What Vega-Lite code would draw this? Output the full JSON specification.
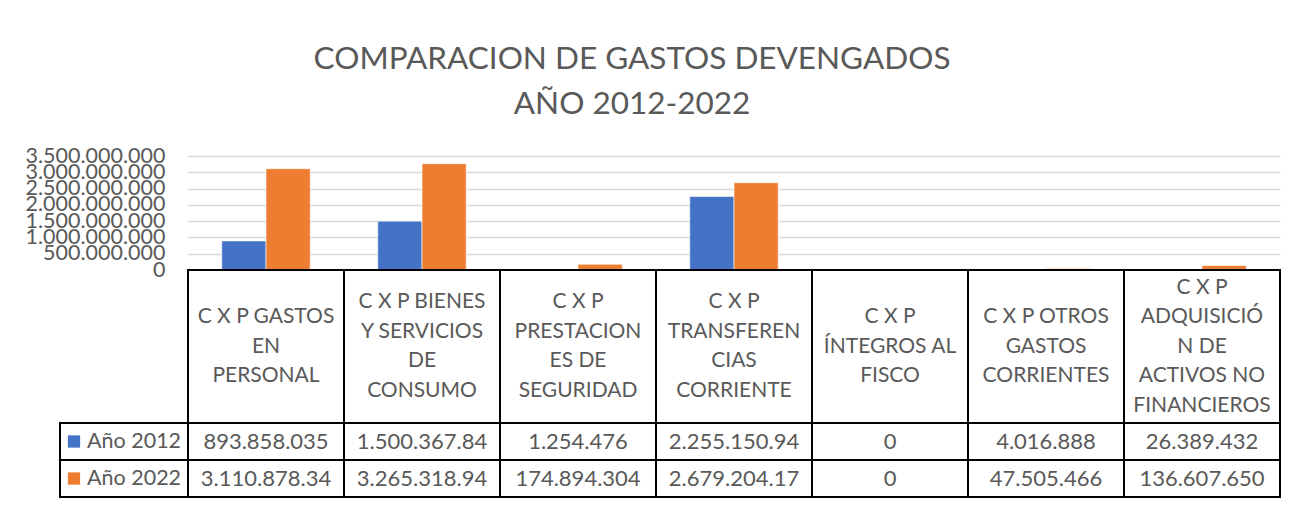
{
  "$schema": "https://vega.github.io/schema/vega-lite/v6.json",
  "background": "white",
  "padding": {"left": 25, "top": 43, "right": 0, "bottom": 0},
  "title": {
    "text": ["COMPARACION DE GASTOS DEVENGADOS", "AÑO 2012-2022"],
    "font": "Lato", "fontSize": 31.5, "fontWeight": "normal", "color": "#595959",
    "lineHeight": 45, "anchor": "middle", "offset": 25, "dx": -21
  },
  "datasets": {
    "gastos": [
      {"cat": "C X P GASTOS EN PERSONAL", "header": "C X P GASTOS\nEN\nPERSONAL", "year": "Año 2012", "value": 893858035, "label": "893.858.035"},
      {"cat": "C X P BIENES Y SERVICIOS DE CONSUMO", "header": "C X P BIENES\nY SERVICIOS\nDE\nCONSUMO", "year": "Año 2012", "value": 1500367840, "label": "1.500.367.84"},
      {"cat": "C X P PRESTACIONES DE SEGURIDAD", "header": "C X P\nPRESTACION\nES DE\nSEGURIDAD", "year": "Año 2012", "value": 1254476, "label": "1.254.476"},
      {"cat": "C X P TRANSFERENCIAS CORRIENTE", "header": "C X P\nTRANSFEREN\nCIAS\nCORRIENTE", "year": "Año 2012", "value": 2255150940, "label": "2.255.150.94"},
      {"cat": "C X P ÍNTEGROS AL FISCO", "header": "C X P\nÍNTEGROS AL\nFISCO", "year": "Año 2012", "value": 0, "label": "0"},
      {"cat": "C X P OTROS GASTOS CORRIENTES", "header": "C X P OTROS\nGASTOS\nCORRIENTES", "year": "Año 2012", "value": 4016888, "label": "4.016.888"},
      {"cat": "C X P ADQUISICIÓN DE ACTIVOS NO FINANCIEROS", "header": "C X P\nADQUISICIÓ\nN DE\nACTIVOS NO\nFINANCIEROS", "year": "Año 2012", "value": 26389432, "label": "26.389.432"},
      {"cat": "C X P GASTOS EN PERSONAL", "header": "C X P GASTOS\nEN\nPERSONAL", "year": "Año 2022", "value": 3110878340, "label": "3.110.878.34"},
      {"cat": "C X P BIENES Y SERVICIOS DE CONSUMO", "header": "C X P BIENES\nY SERVICIOS\nDE\nCONSUMO", "year": "Año 2022", "value": 3265318940, "label": "3.265.318.94"},
      {"cat": "C X P PRESTACIONES DE SEGURIDAD", "header": "C X P\nPRESTACION\nES DE\nSEGURIDAD", "year": "Año 2022", "value": 174894304, "label": "174.894.304"},
      {"cat": "C X P TRANSFERENCIAS CORRIENTE", "header": "C X P\nTRANSFEREN\nCIAS\nCORRIENTE", "year": "Año 2022", "value": 2679204170, "label": "2.679.204.17"},
      {"cat": "C X P ÍNTEGROS AL FISCO", "header": "C X P\nÍNTEGROS AL\nFISCO", "year": "Año 2022", "value": 0, "label": "0"},
      {"cat": "C X P OTROS GASTOS CORRIENTES", "header": "C X P OTROS\nGASTOS\nCORRIENTES", "year": "Año 2022", "value": 47505466, "label": "47.505.466"},
      {"cat": "C X P ADQUISICIÓN DE ACTIVOS NO FINANCIEROS", "header": "C X P\nADQUISICIÓ\nN DE\nACTIVOS NO\nFINANCIEROS", "year": "Año 2022", "value": 136607650, "label": "136.607.650"}
    ]
  },
  "columns": 2,
  "spacing": 0,
  "bounds": "flush",
  "concat": [
    {
      "width": 128, "height": 114,
      "data": {"name": "gastos"},
      "transform": [{"filter": "datum.cat == 'C X P GASTOS EN PERSONAL' && datum.year == 'Año 2012'"}],
      "mark": {"type": "text", "text": ""},
      "encoding": {}
    },
    {
      "width": 1092, "height": 114,
      "data": {"name": "gastos"},
      "mark": {"type": "bar", "stroke": "white", "strokeWidth": 0.6},
      "encoding": {
        "x": {"field": "cat", "type": "nominal", "sort": null, "scale": {"paddingInner": 0.433, "paddingOuter": 0.2165}, "axis": null},
        "xOffset": {"field": "year", "type": "nominal", "sort": null, "scale": {"paddingInner": 0, "paddingOuter": 0}},
        "y": {
          "field": "value", "type": "quantitative",
          "scale": {"domain": [0, 3500000000], "nice": false, "zero": true},
          "axis": {
            "values": [0, 500000000, 1000000000, 1500000000, 2000000000, 2500000000, 3000000000, 3500000000],
            "format": ",d", "title": null, "domain": false, "ticks": false,
            "labelFont": "Lato", "labelFontSize": 21.5, "labelColor": "#595959", "labelPadding": 23,
            "labelOverlap": false, "labelBaseline": "middle",
            "gridColor": "#D9D9D9", "gridWidth": 1.3
          }
        },
        "color": {"field": "year", "type": "nominal", "scale": {"domain": ["Año 2012", "Año 2022"], "range": ["#4472C4", "#ED7D31"]}, "legend": null}
      }
    },
    {
      "width": 128, "height": 153,
      "data": {"name": "gastos"},
      "transform": [{"filter": "datum.cat == 'C X P GASTOS EN PERSONAL' && datum.year == 'Año 2012'"}],
      "mark": {"type": "text", "text": ""},
      "encoding": {}
    },
    {
      "width": 1092, "height": 153,
      "data": {"name": "gastos"},
      "transform": [{"filter": "datum.year == 'Año 2012'"}],
      "encoding": {
        "x": {"field": "cat", "type": "nominal", "sort": null, "scale": {"paddingInner": 0, "paddingOuter": 0}, "axis": null}
      },
      "layer": [
        {"mark": {"type": "rect", "fill": "white", "stroke": "black", "strokeWidth": 2}},
        {
          "transform": [{"filter": "length(split(datum.header, '\\n')) == 3"}],
          "mark": {"type": "text", "font": "Lato", "fontSize": 21, "color": "#595959", "lineBreak": "\n", "lineHeight": 29.5, "baseline": "middle", "align": "center", "dy": -29.5},
          "encoding": {"text": {"field": "header"}}
        },
        {
          "transform": [{"filter": "length(split(datum.header, '\\n')) == 4"}],
          "mark": {"type": "text", "font": "Lato", "fontSize": 21, "color": "#595959", "lineBreak": "\n", "lineHeight": 29.5, "baseline": "middle", "align": "center", "dy": -44.25},
          "encoding": {"text": {"field": "header"}}
        },
        {
          "transform": [{"filter": "length(split(datum.header, '\\n')) == 5"}],
          "mark": {"type": "text", "font": "Lato", "fontSize": 21, "color": "#595959", "lineBreak": "\n", "lineHeight": 29.5, "baseline": "middle", "align": "center", "dy": -59},
          "encoding": {"text": {"field": "header"}}
        }
      ]
    },
    {
      "width": 128, "height": 74,
      "data": {"name": "gastos"},
      "transform": [{"filter": "datum.cat == 'C X P GASTOS EN PERSONAL'"}],
      "encoding": {
        "y": {"field": "year", "type": "nominal", "sort": null, "scale": {"paddingInner": 0, "paddingOuter": 0}, "axis": null}
      },
      "layer": [
        {"mark": {"type": "rect", "fill": "white", "stroke": "black", "strokeWidth": 2}},
        {
          "mark": {"type": "point", "shape": "square", "filled": true, "opacity": 1, "size": 150, "xOffset": -50},
          "encoding": {
            "color": {"field": "year", "type": "nominal", "scale": {"domain": ["Año 2012", "Año 2022"], "range": ["#4472C4", "#ED7D31"]}, "legend": null}
          }
        },
        {
          "mark": {"type": "text", "font": "Lato", "fontSize": 21.5, "color": "#595959", "align": "left", "baseline": "middle", "dx": -37},
          "encoding": {"text": {"field": "year"}}
        }
      ]
    },
    {
      "width": 1092, "height": 74,
      "data": {"name": "gastos"},
      "encoding": {
        "x": {"field": "cat", "type": "nominal", "sort": null, "scale": {"paddingInner": 0, "paddingOuter": 0}, "axis": null},
        "y": {"field": "year", "type": "nominal", "sort": null, "scale": {"paddingInner": 0, "paddingOuter": 0}, "axis": null}
      },
      "layer": [
        {"mark": {"type": "rect", "fill": "white", "stroke": "black", "strokeWidth": 2}},
        {
          "mark": {"type": "text", "font": "Lato", "fontSize": 22, "color": "#595959", "baseline": "middle", "align": "center"},
          "encoding": {"text": {"field": "label"}}
        }
      ]
    }
  ],
  "config": {
    "view": {"stroke": null},
    "font": "Lato",
    "locale": {"number": {"decimal": ",", "thousands": ".", "grouping": [3], "currency": ["$", ""]}}
  }
}
